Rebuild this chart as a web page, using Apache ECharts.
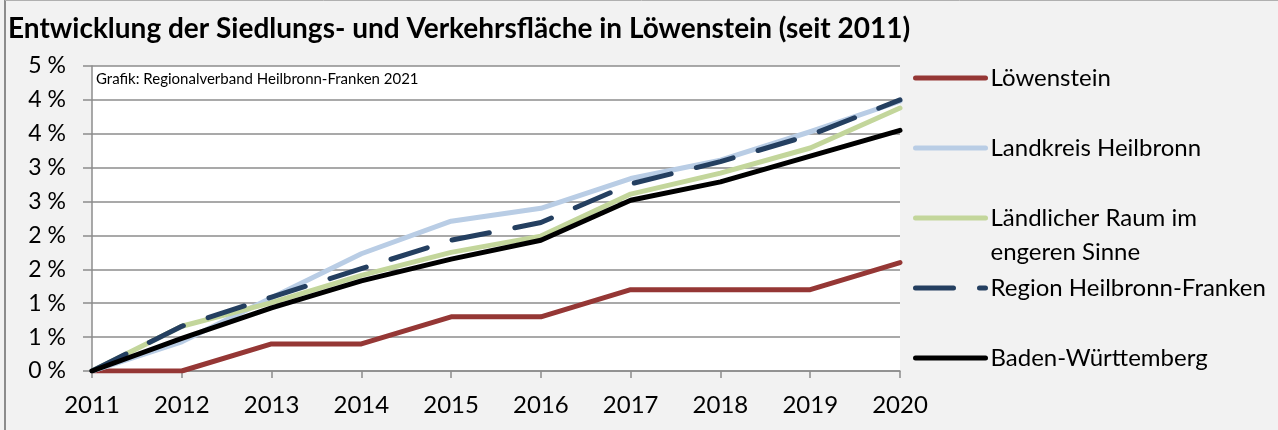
<!DOCTYPE html>
<html>
<head>
<meta charset="utf-8">
<script src="https://cdn.jsdelivr.net/npm/echarts@6/dist/echarts.min.js"></script>
<style>
  html, body { margin: 0; padding: 0; background: #f2f2f2; }
  #chart { width: 1278px; height: 430px; }
</style>
</head>
<body>
<div id="chart"></div>
<script>
// Werte in Prozent
const years = ['2011', '2012', '2013', '2014', '2015', '2016', '2017', '2018', '2019', '2020'];
const loewenstein = [0, 0, 0.4, 0.4, 0.8, 0.8, 1.2, 1.2, 1.2, 1.6];
const landkreis = [0, 0.43, 1.08, 1.73, 2.21, 2.40, 2.84, 3.11, 3.53, 3.98];
const laendlich = [0, 0.66, 1.01, 1.41, 1.75, 1.99, 2.61, 2.92, 3.29, 3.88];
const region = [0, 0.66, 1.09, 1.51, 1.93, 2.19, 2.76, 3.09, 3.48, 4.0];
const bw = [0, 0.48, 0.93, 1.33, 1.65, 1.93, 2.52, 2.79, 3.17, 3.55];
const yTickLabels = ['0 %', '1 %', '1 %', '2 %', '2 %', '3 %', '3 %', '4 %', '4 %', '5 %'];

const font = 'Lato';
const gridColor = '#8c8c8c';
const longName = 'Ländlicher Raum im engeren Sinne';

const chart = echarts.init(document.getElementById('chart'));

const seriesDefs = [
  { name: 'Löwenstein', data: loewenstein, color: '#953735', dash: 'solid', y: 78 },
  { name: 'Landkreis Heilbronn', data: landkreis, color: '#b9cde5', dash: 'solid', y: 148 },
  { name: longName, data: laendlich, color: '#c3d69b', dash: 'solid', y: 218 },
  { name: 'Region Heilbronn-Franken', data: region, color: '#243f60', dash: [38, 26], y: 288 },
  { name: 'Baden-Württemberg', data: bw, color: '#000000', dash: 'solid', y: 358 },
];

// eine Legende pro Eintrag, damit die Abstände wie im Original sind
const legends = seriesDefs.map(s => {
  const multi = s.name === longName;
  return {
    data: [s.name],
    left: 913,
    top: multi ? s.y - 51 : s.y - 14,
    padding: 0,
    itemWidth: 70,
    itemHeight: 14,
    selectedMode: false,
    itemStyle: { opacity: 0 },
    lineStyle: { width: 5, cap: 'round', type: s.dash },
    formatter: name => name === longName ? '\nLändlicher Raum im\nengeren Sinne' : name,
    textStyle: {
      fontFamily: font,
      fontSize: 24,
      color: '#000',
      lineHeight: multi ? 34 : 28,
    },
  };
});

const option = {
  backgroundColor: '#f2f2f2',
  animation: false,
  title: [
    {
      text: 'Entwicklung der Siedlungs- und Verkehrsfläche in Löwenstein (seit 2011)',
      left: 8,
      top: 15,
      padding: 0,
      textStyle: { fontFamily: font, fontSize: 28, fontWeight: 'bold', color: '#000' },
    },
    {
      text: 'Grafik: Regionalverband Heilbronn-Franken 2021',
      left: 96,
      top: 72,
      padding: 0,
      textStyle: { fontFamily: font, fontSize: 15, fontWeight: 'normal', color: '#000' },
    },
  ],
  graphic: [
    { type: 'line', shape: { x1: 5, y1: 0, x2: 5, y2: 430 }, style: { stroke: '#8c8c8c', lineWidth: 2 } },
    { type: 'line', shape: { x1: 5, y1: 0.5, x2: 1278, y2: 0.5 }, style: { stroke: '#b0b0b0', lineWidth: 1 } },
  ],
  legend: legends,
  grid: {
    left: 92,
    right: 378,
    top: 66,
    bottom: 59,
    show: true,
    backgroundColor: '#ffffff',
    borderWidth: 0,
  },
  xAxis: {
    type: 'category',
    data: years,
    boundaryGap: false,
    axisLine: { show: true, lineStyle: { color: gridColor, width: 1.5 } },
    axisTick: { show: true, length: 7, lineStyle: { color: gridColor, width: 1.5 } },
    axisLabel: { fontFamily: font, fontSize: 24, color: '#000', margin: 22 },
    splitLine: { show: false },
  },
  yAxis: {
    type: 'value',
    min: 0,
    max: 4.5,
    interval: 0.5,
    axisLine: { show: true, lineStyle: { color: gridColor, width: 1.5 } },
    axisTick: { show: true, length: 9, lineStyle: { color: gridColor, width: 1.5 } },
    axisLabel: {
      fontFamily: font,
      fontSize: 23,
      color: '#000',
      margin: 26,
      formatter: v => yTickLabels[Math.round(v / 0.5)],
    },
    splitLine: { show: true, lineStyle: { color: gridColor, width: 1.5 } },
  },
  series: seriesDefs.map(s => ({
    name: s.name,
    type: 'line',
    data: s.data,
    symbol: 'none',
    lineStyle: { color: s.color, width: 5, type: s.dash, cap: 'round', join: 'round' },
    itemStyle: { color: s.color },
  })),
};

chart.setOption(option);
</script>
</body>
</html>
